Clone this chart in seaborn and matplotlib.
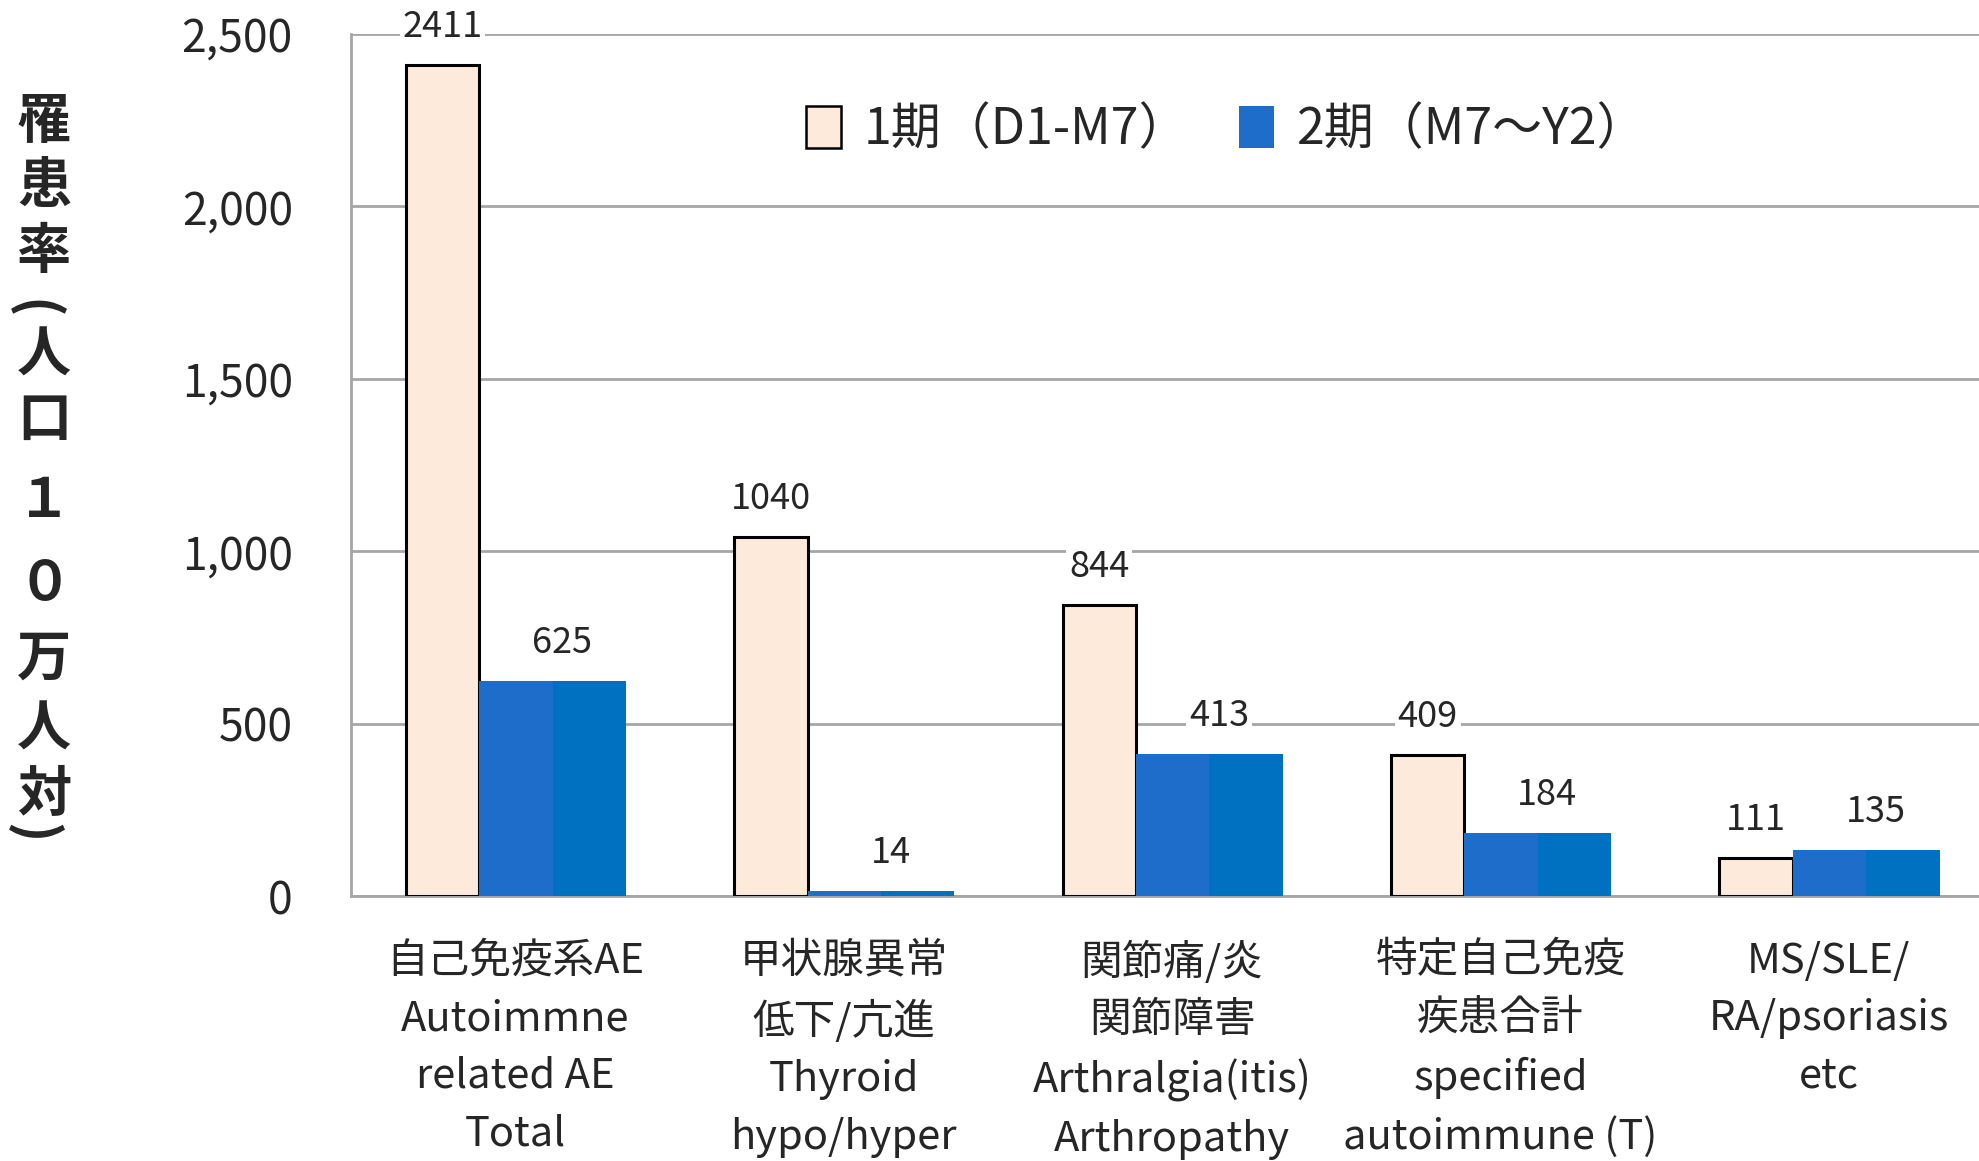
import matplotlib
matplotlib.use("Agg")
import matplotlib.pyplot as plt
from matplotlib.patches import Patch, Rectangle
from matplotlib.ticker import FuncFormatter, FixedLocator
import seaborn as sns
import pandas as pd

# Incidence per 100k population, period 1 vs period 2
categories = [
    "自己免疫系AE\nAutoimmne\nrelated AE\nTotal",
    "甲状腺異常\n低下/亢進\nThyroid\nhypo/hyper",
    "関節痛/炎\n関節障害\nArthralgia(itis)\nArthropathy",
    "特定自己免疫\n疾患合計\nspecified\nautoimmune (T)",
    "MS/SLE/\nRA/psoriasis\netc",
]
period1 = [2411, 1040, 844, 409, 111]
period2 = [625, 14, 413, 184, 135]
series_names = ["1期（D1-M7）", "2期（M7～Y2）"]
ylabel_chars = ["罹", "患", "率", "(", "人", "口", "１", "０", "万", "人", "対", ")"]
yticks = [0, 500, 1000, 1500, 2000, 2500]

sns.set_theme(style="white")
plt.rcParams["font.family"] = ["Noto Sans CJK JP", "DejaVu Sans"]

df = pd.DataFrame({
    "cat": categories * 2,
    "period": [series_names[0]] * 5 + [series_names[1]] * 5,
    "value": period1 + period2,
})

PINK = "#FDEADA"
BLUE_L = "#1F6DCA"
BLUE_R = "#0070C0"
GRID = "#A6A6A6"

fig = plt.figure(figsize=(19.79, 11.61), dpi=100)
ax = fig.add_axes([0.1774, 0.2282, 0.8297, 0.7425])

sns.barplot(data=df, x="cat", y="value", hue="period", order=categories,
            hue_order=series_names, palette=[PINK, BLUE_L], width=0.67,
            saturation=1, legend=False, ax=ax, zorder=3)

# Reshape bars: narrow outlined bar for period 1, wide two-tone bar for period 2
for p in ax.containers[0].patches:
    cx = round(p.get_x() + p.get_width())  # category index
    p.set_x(cx - 0.333)
    p.set_width(0.223)
    p.set_edgecolor("black")
    p.set_linewidth(2.2)
for p in ax.containers[1].patches:
    cx = round(p.get_x())
    p.set_x(cx - 0.110)
    p.set_width(0.447)
    p.set_edgecolor("none")
    h = p.get_height()
    ax.add_patch(Rectangle((cx - 0.110 + 0.2235, 0), 0.2235, h,
                           facecolor=BLUE_R, edgecolor="none", zorder=3))

# Value labels
for i, (a, b) in enumerate(zip(period1, period2)):
    ax.annotate(f"{a}", (i - 0.2215, a), xytext=(0, 38), textcoords="offset pixels",
                ha="center", va="center", fontsize=26, zorder=5,
                bbox=dict(facecolor="white", edgecolor="none", pad=2))
    ax.annotate(f"{b}", (i + 0.143, b), xytext=(0, 38), textcoords="offset pixels",
                ha="center", va="center", fontsize=26, zorder=5,
                bbox=dict(facecolor="white", edgecolor="none", pad=2))

ax.set_xlim(-0.5, 4.5)
ax.set_ylim(0, 2500)
ax.set_yticks(yticks)
ax.yaxis.set_major_formatter(FuncFormatter(lambda v, _: f"{v:,.0f}"))
ax.yaxis.grid(True, color=GRID, linewidth=2, zorder=0)
ax.set_axisbelow(True)

ax.set_xticks(range(len(categories)))
ax.set_xticklabels(categories, fontsize=30, linespacing=1.52)
ax.xaxis.set_minor_locator(FixedLocator([-0.5, 0.5, 1.5, 2.5, 3.5, 4.5]))
ax.tick_params(axis="x", which="major", length=0, pad=32)
ax.tick_params(axis="x", which="minor", length=12, width=2, color=GRID, direction="out")
ax.tick_params(axis="y", length=12, width=2, color=GRID, direction="out",
               labelsize=32, pad=30)
ax.set_xlabel("")
ax.set_ylabel("")

for s in ["top", "right"]:
    ax.spines[s].set_visible(False)
for s in ["left", "bottom"]:
    ax.spines[s].set_color(GRID)
    ax.spines[s].set_linewidth(2)

# Vertical axis title: one glyph per line, brackets turned for vertical writing
ylabel_y = [0.8945, 0.839, 0.7825, 0.7336, 0.6933, 0.638,
            0.5683, 0.4965, 0.4324, 0.3715, 0.3149, 0.2823]
for ch, yy in zip(ylabel_chars, ylabel_y):
    is_bracket = ch in "()"
    fig.text(0.0223 - (0.006 if is_bracket else 0.0), yy, ch,
             ha="center", va="center", fontsize=39, fontweight="bold",
             rotation=-90 if is_bracket else 0, rotation_mode="default")

handles = [Patch(facecolor=PINK, edgecolor="black", linewidth=1.8),
           Patch(facecolor=BLUE_L, edgecolor="none")]
fig.legend(handles, series_names, loc="center", bbox_to_anchor=(0.620, 0.888),
           ncol=2, frameon=False, fontsize=36, handlelength=0.7, handleheight=0.9,
           handletextpad=0.45, columnspacing=1.0)

fig.savefig("out.png", dpi=100)
